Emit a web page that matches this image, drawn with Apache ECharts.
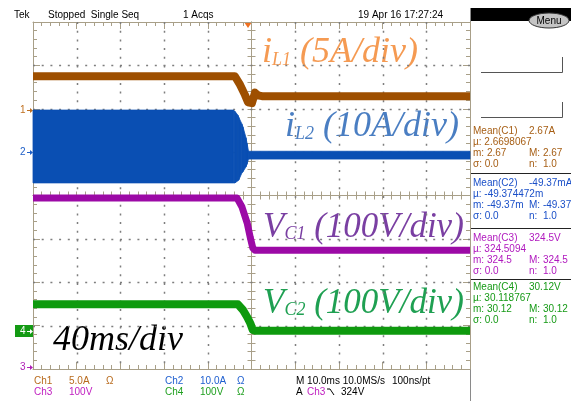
<!DOCTYPE html>
<html><head><meta charset="utf-8">
<script src="https://cdn.jsdelivr.net/npm/echarts@6/dist/echarts.min.js"></script>
<style>html,body{margin:0;padding:0;background:#fff}#c{width:571px;height:401px}</style>
</head><body><div id="c"></div>
<script>
// Time in ms relative to trigger (10 ms/div), amplitude in screen divisions
const ch1Time = [-50, -3.8, -2.6, -1.5, -0.8, 0.1, 0.8, 1.5, 2.4, 50];
const ch1Div  = [2.75, 2.75, 2.55, 2.32, 2.15, 2.13, 2.37, 2.31, 2.29, 2.29];
const ch2Time  = [-50, -4.2, -3.8, -3.1, -2.9, -2.2, -1.95, -1.26, -1.03, -0.69, 50];
const ch2Upper = [1.97, 1.97, 1.94, 1.85, 1.80, 1.65, 1.58, 1.33, 1.21, 1.02, 1.02];
const ch2Lower = [0.29, 0.29, 0.29, 0.34, 0.36, 0.52, 0.55, 0.66, 0.72, 0.84, 0.84];
const ch3Time = [-50, -3.3, -2.2, -1.0, -0.3, 0.3, 0.8, 50];
const ch3Div  = [-0.06, -0.06, -0.26, -0.63, -0.96, -1.21, -1.26, -1.26];
const ch4Time = [-50, -3.1, -1.95, -1.0, -0.3, 0.3, 1.0, 50];
const ch4Div  = [-2.51, -2.51, -2.64, -2.80, -2.94, -3.10, -3.12, -3.12];
// division grid positions (dotted graticule)
const xDivs = [-40, -30, -20, -10, 10, 20, 30, 40];
const yDivs = [-3, -2, -1, 1, 2, 3];

const headerTexts = ['Tek', 'Stopped  Single Seq', '1 Acqs', '19 Apr 16 17:27:24'];
const readC1 = [['Mean(C1)', '2.67A'], ['\u00b5: 2.6698067', ''], ['m: 2.67', 'M: 2.67'], ['\u03c3: 0.0', 'n:  1.0']];
const readC2 = [['Mean(C2)', '-49.37mA'], ['\u00b5: -49.374472m', ''], ['m: -49.37m', 'M: -49.37m'], ['\u03c3: 0.0', 'n:  1.0']];
const readC3 = [['Mean(C3)', '324.5V'], ['\u00b5: 324.5094', ''], ['m: 324.5', 'M: 324.5'], ['\u03c3: 0.0', 'n:  1.0']];
const readC4 = [['Mean(C4)', '30.12V'], ['\u00b5: 30.118767', ''], ['m: 30.12', 'M: 30.12'], ['\u03c3: 0.0', 'n:  1.0']];

const C1 = '#9E4F00', C2 = '#0A4FB3', C3 = '#9C0AA6', C4 = '#0E9A0E';
const GRIDC = '#A89F88', DOTC = '#7E7E7E';
const SANS = 'Liberation Sans, Arial, sans-serif';
const SERIF = 'Liberation Serif, Times New Roman, serif';

function zip(a, b) { return a.map((t, i) => [t, b[i]]); }
const blank = { show: true, formatter: function () { return ''; } };

function axis(dim, pos, onZero, inside, len, minorLen) {
  const a = {
    type: 'value', position: pos,
    min: dim === 'x' ? -50 : -4, max: dim === 'x' ? 50 : 4, interval: dim === 'x' ? 10 : 1,
    axisLabel: blank,
    axisLine: { show: true, onZero: onZero, lineStyle: { color: GRIDC, width: 1 } },
    axisTick: { show: true, inside: inside, length: len, lineStyle: { color: GRIDC } },
    minorTick: { show: true, splitNumber: 5, length: minorLen, lineStyle: { color: GRIDC } },
    splitLine: { show: false }
  };
  if (onZero) a.axisLine.onZeroAxisIndex = 0;
  return a;
}

const chart = echarts.init(document.getElementById('c'), null, { renderer: 'canvas' });

const g = [];
function txt(x, y, s, color, size, align, extra) {
  g.push(Object.assign({ type: 'text', x: x, y: y, silent: true,
    style: { text: s, fill: color, font: (size || 10) + 'px ' + SANS, textAlign: align || 'left', textVerticalAlign: 'middle' } }, extra || {}));
}
// header
txt(14, 15, headerTexts[0], '#000');
txt(48, 15, headerTexts[1], '#000');
txt(183, 15, headerTexts[2], '#000');
txt(358, 15, headerTexts[3], '#000');
// trigger position marker
g.push({ type: 'polygon', shape: { points: [[244, 22], [252, 22], [248, 28]] }, style: { fill: '#F07020' } });
// right panel
g.push({ type: 'rect', shape: { x: 470, y: 8, width: 101, height: 13 }, style: { fill: '#000' } });
g.push({ type: 'line', shape: { x1: 470.5, y1: 8, x2: 470.5, y2: 401 }, style: { stroke: '#8a8a8a', lineWidth: 1 } });
g.push({ type: 'ellipse', shape: { cx: 549, cy: 20.5, rx: 20, ry: 7.5 }, style: { fill: '#C4C4C4', stroke: '#333', lineWidth: 1 } });
txt(549, 21, 'Menu', '#000', 10, 'center');
g.push({ type: 'polyline', shape: { points: [[481, 72.5], [562.5, 72.5], [562.5, 57]] }, style: { stroke: '#555', lineWidth: 1, fill: null } });
g.push({ type: 'polyline', shape: { points: [[481, 117.5], [562.5, 117.5], [562.5, 102]] }, style: { stroke: '#555', lineWidth: 1, fill: null } });
[173.5, 228.5, 279.5].forEach(y => g.push({ type: 'line', shape: { x1: 471, y1: y, x2: 571, y2: y }, style: { stroke: '#222', lineWidth: 1 } }));
function readout(rows, y0, color) {
  rows.forEach((r, i) => {
    txt(473, y0 + i * 11, r[0], color);
    if (r[1]) txt(529, y0 + i * 11, r[1], color);
  });
}
readout(readC1, 131, '#A65E14');
readout(readC2, 183, '#1A4FC8');
readout(readC3, 238, '#B018BE');
readout(readC4, 287, '#169A16');
// channel ground markers
function marker(y, label, color, boxed) {
  if (boxed) {
    g.push({ type: 'rect', shape: { x: 15, y: y - 6, width: 18, height: 12 }, style: { fill: color } });
    color = '#fff';
  }
  txt(20, y, label, color, 10, 'left');
  g.push({ type: 'line', shape: { x1: 27, y1: y + 0.5, x2: 31, y2: y + 0.5 }, style: { stroke: color, lineWidth: 1 } });
  g.push({ type: 'polygon', shape: { points: [[30, y - 2], [33, y + 0.5], [30, y + 3]] }, style: { fill: color } });
}
marker(110, '1', '#C07020');
marker(152, '2', '#2060C8');
marker(331, '4', '#139A13', true);
marker(367, '3', '#B020B8');
// bottom status
txt(34, 381, 'Ch1', '#B86A1C'); txt(69, 381, '5.0A', '#B86A1C'); txt(106, 381, '\u03a9', '#B86A1C');
txt(165, 381, 'Ch2', '#2060D0'); txt(200, 381, '10.0A', '#2060D0'); txt(237, 381, '\u03a9', '#2060D0');
txt(296, 381, 'M 10.0ms 10.0MS/s', '#000'); txt(392, 381, '100ns/pt', '#000');
txt(34, 392, 'Ch3', '#C020C0'); txt(69, 392, '100V', '#C020C0');
txt(165, 392, 'Ch4', '#20A020'); txt(200, 392, '100V', '#20A020'); txt(237, 392, '\u03a9', '#20A020');
txt(296, 392, 'A', '#000'); txt(307, 392, 'Ch3', '#C020C0');
g.push({ type: 'polyline', shape: { points: [[327, 389], [330, 389], [334, 395]] }, style: { stroke: '#000', lineWidth: 1, fill: null } });
txt(341, 392, '324V', '#000');
// annotations
function ann(x, y, main, sub, rest, color, size, subSize) {
  g.push({ type: 'text', x: x, y: y, silent: true, style: {
    text: '{a|' + main + '}{b|' + sub + '}{a|' + rest + '}',
    textVerticalAlign: 'middle',
    rich: {
      a: { fontFamily: SERIF, fontStyle: 'italic', fontSize: size, fill: color, fontWeight: 'normal' },
      b: { fontFamily: SERIF, fontStyle: 'italic', fontSize: subSize, fill: color, verticalAlign: 'bottom', padding: [0, 0, 2, 0] }
    } } });
}
ann(262, 53, 'i', 'L1', ' (5A/div)', '#F59A52', 36, 18);
ann(285, 127, 'i', 'L2', ' (10A/div)', '#4A7EC2', 36, 18);
ann(263, 228, 'V', 'C1', ' (100V/div)', '#7A3FA2', 35, 18);
ann(263, 304, 'V', 'C2', ' (100V/div)', '#1FA052', 35, 18);
g.push({ type: 'text', x: 53, y: 341, silent: true, style: { text: '40ms/div', textVerticalAlign: 'middle', font: 'italic 36px ' + SERIF, fill: '#000' } });

function dotLine(p0, p1) {
  return { type: 'line', shape: { x1: p0[0], y1: p0[1], x2: p1[0], y2: p1[1] },
    style: { stroke: DOTC, lineWidth: 1.5, lineDash: [2, 6.7] } };
}

const option = {
  animation: false,
  backgroundColor: '#fff',
  grid: { left: 33, top: 22, width: 437, height: 347, show: false },
  xAxis: [
    axis('x', 'bottom', false, true, 7, 4),
    axis('x', 'top', false, true, 7, 4),
    axis('x', 'bottom', true, true, 4, 4),
    axis('x', 'bottom', true, false, 4, 4)
  ],
  yAxis: [
    axis('y', 'left', false, true, 7, 4),
    axis('y', 'right', false, true, 7, 4),
    axis('y', 'left', true, true, 4, 4),
    axis('y', 'left', true, false, 4, 4)
  ],
  series: [
    { type: 'custom', name: 'vgrid', silent: true, z: 1, clip: false, data: xDivs.map(v => [v, 0]),
      renderItem: function (params, api) {
        const v = api.value(0);
        const a = api.coord([v, 4]), b = api.coord([v, -4]);
        const x = Math.round(a[0]) + 0.5;
        return dotLine([x, a[1]], [x, b[1]]);
      } },
    { type: 'custom', name: 'hgrid', silent: true, z: 1, clip: false, data: yDivs.map(v => [0, v]),
      renderItem: function (params, api) {
        const v = api.value(1);
        const a = api.coord([-50, v]), b = api.coord([50, v]);
        const y = Math.round(a[1]) + 0.5;
        return dotLine([a[0], y], [b[0], y]);
      } },
    { type: 'line', name: 'Ch1', data: zip(ch1Time, ch1Div), symbol: 'none', lineStyle: { color: C1, width: 8, join: 'round' }, z: 5 },
    { type: 'custom', name: 'Ch2', data: ch2Time.map((t, i) => [t, ch2Lower[i], ch2Upper[i]]), z: 5,
      renderItem: function (params, api) {
        const i = params.dataIndex;
        if (i >= ch2Time.length - 1) return null;
        const t0 = api.value(0), lo0 = api.value(1), hi0 = api.value(2);
        const t1 = ch2Time[i + 1], lo1 = ch2Lower[i + 1], hi1 = ch2Upper[i + 1];
        const pts = [api.coord([t0, hi0]), api.coord([t1, hi1]), api.coord([t1, lo1]), api.coord([t0, lo0])];
        return { type: 'polygon', shape: { points: pts }, style: { fill: C2, stroke: C2, lineWidth: 0.8 } };
      } },
    { type: 'line', name: 'Ch3', data: zip(ch3Time, ch3Div), symbol: 'none', lineStyle: { color: C3, width: 7, join: 'round' }, z: 5 },
    { type: 'line', name: 'Ch4', data: zip(ch4Time, ch4Div), symbol: 'none', lineStyle: { color: C4, width: 8, join: 'round' }, z: 5 }
  ],
  graphic: g
};
chart.setOption(option);
</script>
</body></html>
